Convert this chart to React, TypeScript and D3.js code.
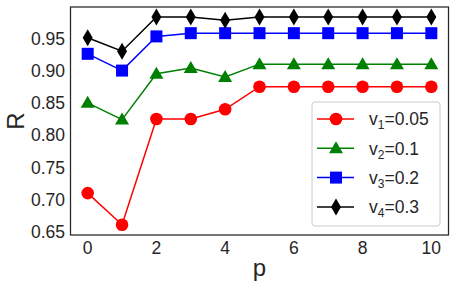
import * as d3 from "d3";

const pValues = [0, 1, 2, 3, 4, 5, 6, 7, 8, 9, 10];
const v1 = [0.71, 0.661, 0.825, 0.825, 0.84, 0.875, 0.875, 0.875, 0.875, 0.875, 0.875];
const v2 = [0.85, 0.824, 0.895, 0.904, 0.89, 0.91, 0.91, 0.91, 0.91, 0.91, 0.91];
const v3 = [0.926, 0.9, 0.953, 0.958, 0.958, 0.958, 0.958, 0.958, 0.958, 0.958, 0.958];
const v4 = [0.951, 0.93, 0.983, 0.983, 0.978, 0.983, 0.983, 0.983, 0.983, 0.983, 0.983];
const xTicks = [0, 2, 4, 6, 8, 10];
const yTicks = [0.65, 0.7, 0.75, 0.8, 0.85, 0.9, 0.95];

const series = [
  { sub: "1", val: "0.05", data: v1, color: "#ff0000", marker: "circle" },
  { sub: "2", val: "0.1", data: v2, color: "#008000", marker: "triangle" },
  { sub: "3", val: "0.2", data: v3, color: "#0000ff", marker: "square" },
  { sub: "4", val: "0.3", data: v4, color: "#000000", marker: "diamond" },
];

const W = 456, H = 288;
const m = { left: 70.5, right: 448.5, top: 7, bottom: 235 };
const font = "'Liberation Sans', Arial, sans-serif";
const ink = "#262626";

function Marker({ kind, x, y, color }: { kind: string; x: number; y: number; color: string }) {
  if (kind === "circle") return <circle cx={x} cy={y} r={6.3} fill={color} />;
  if (kind === "square") return <rect x={x - 6} y={y - 6} width={12} height={12} fill={color} />;
  if (kind === "triangle")
    return <path d={`M${x},${y - 7}L${x + 7},${y + 5}L${x - 7},${y + 5}Z`} fill={color} />;
  return <path d={`M${x},${y - 8.5}L${x + 5},${y}L${x},${y + 8.5}L${x - 5},${y}Z`} fill={color} />;
}

export default function App() {
  const x = d3.scaleLinear().domain([-0.5, 10.5]).range([m.left, m.right]);
  const y = d3.scaleLinear().domain([0.645, 0.9986]).range([m.bottom, m.top]);
  const line = d3.line<number>().x((_, i) => x(pValues[i])).y((d) => y(d));

  const legX = 312, legY = 102;
  return (
    <svg width={W} height={H} style={{ position: "absolute", left: 0, top: 0 }} fontFamily={font}>
      <rect width={W} height={H} fill="#fff" />
      {series.map((s) => (
        <g key={s.sub}>
          <path d={line(s.data) || undefined} fill="none" stroke={s.color} strokeWidth={1.5} />
          {s.data.map((d, i) => (
            <Marker key={i} kind={s.marker} x={x(pValues[i])} y={y(d)} color={s.color} />
          ))}
        </g>
      ))}
      <rect x={m.left} y={m.top} width={m.right - m.left} height={m.bottom - m.top}
        fill="none" stroke={ink} strokeWidth={1.25} />
      {xTicks.map((t) => (
        <text key={t} x={x(t)} y={254} textAnchor="middle" fontSize={17.5} fill={ink}>{t}</text>
      ))}
      {yTicks.map((t) => (
        <text key={t} x={65} y={y(t) + 6.3} textAnchor="end" fontSize={17.5} fill={ink}>{t.toFixed(2)}</text>
      ))}
      <text x={(m.left + m.right) / 2} y={276} textAnchor="middle" fontSize={24} fill={ink}>p</text>
      <text transform={`translate(23.5,${(m.top + m.bottom) / 2}) rotate(-90)`} textAnchor="middle"
        fontSize={24} fill={ink}>R</text>
      <rect x={legX} y={legY} width={128} height={124} rx={3} fill="#fff" fillOpacity={0.8}
        stroke="#cccccc" strokeWidth={1} />
      {series.map((s, i) => {
        const ly = 119 + i * 29.3;
        return (
          <g key={s.sub}>
            <line x1={317} x2={354} y1={ly} y2={ly} stroke={s.color} strokeWidth={1.5} />
            <Marker kind={s.marker} x={336} y={ly} color={s.color} />
            <text x={369} y={ly + 6.3} fontSize={17.5} fill={ink}>
              v<tspan fontSize={12} dy={4}>{s.sub}</tspan>
              <tspan dy={-4}>={s.val}</tspan>
            </text>
          </g>
        );
      })}
    </svg>
  );
}
